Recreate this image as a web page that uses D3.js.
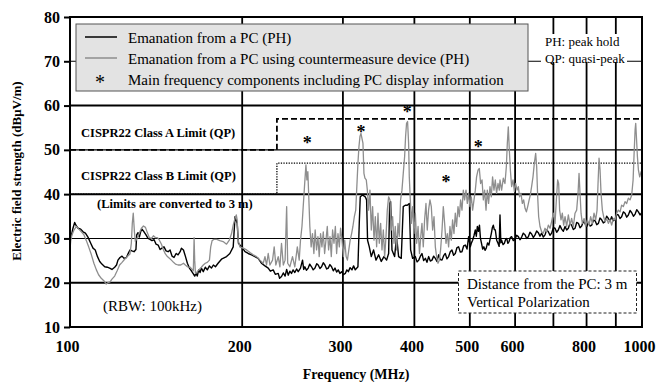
<!DOCTYPE html>
<html><head><meta charset="utf-8">
<script src="https://cdn.jsdelivr.net/npm/d3@7"></script>
<style>
body{margin:0;background:#fff}
svg{display:block}
text{font-family:"Liberation Serif","Times New Roman",serif;fill:#000}
</style>
</head><body>
<svg id="chart" width="658" height="383" font-family="Liberation Serif, serif"></svg>
<script>
// ---------------- data (frequency MHz, level dBµV/m) ----------------
const pcPH = [
[100.0,29.8],[100.3,30.0],[101.2,32.3],[101.9,33.6],[102.6,32.8],[103.3,32.3],[104.4,32.1],[105.4,31.5],[106.4,31.2],[107.5,30.3],[108.7,28.9],[109.7,27.8],[110.7,27.4],[111.6,26.0],[112.7,24.8],[113.7,24.2],[115.0,23.6],[116.2,23.5],[117.3,23.3],[118.4,23.0],[119.7,23.5],[120.6,24.0],[121.3,25.1],[122.3,25.7],[123.3,26.0],[124.3,25.5],[125.5,25.7],[126.3,26.5],[127.3,27.4],[128.3,27.2],[129.4,27.0],[130.4,27.5],[130.8,30.8],[131.5,31.3],[132.2,30.3],[132.9,31.5],[133.6,32.1],[134.7,31.5],[135.8,30.8],[136.9,30.0],[138.0,29.8],[139.1,29.5],[140.3,29.7],[141.4,28.7],[142.6,28.5],[143.7,27.5],[144.8,27.8],[146.0,28.1],[147.2,27.2],[148.4,27.0],[149.6,27.4],[150.8,26.0],[152.0,25.7],[153.3,26.6],[154.5,26.3],[155.8,27.0],[156.6,27.8],[157.9,27.4],[159.1,26.0],[160.4,24.4],[161.7,23.3],[163.0,22.7],[164.3,22.0],[165.2,21.5],[166.1,22.1],[166.9,21.5],[167.9,22.9],[168.8,22.3],[169.7,23.3],[171.0,22.5],[172.4,23.5],[173.8,22.9],[175.3,23.8],[176.7,23.3],[178.1,24.0],[179.6,23.6],[181.5,24.4],[184.0,25.3],[187.8,25.9],[190.3,26.6],[192.9,28.1],[194.3,34.9],[196.0,33.4],[197.0,28.9],[199.5,28.1],[202.3,27.0],[204.9,26.6],[207.7,26.3],[210.5,25.9],[213.3,25.5],[216.1,24.4],[219.2,23.8],[222.1,23.3],[224.0,22.6],[226.6,22.9],[228.5,21.9],[231.2,22.1],[232.5,21.0],[234.3,21.4],[236.0,22.2],[237.7,21.5],[239.2,23.0],[240.7,21.7],[242.3,22.6],[243.9,22.1],[245.5,22.9],[247.2,22.3],[249.0,23.1],[250.6,22.5],[252.9,23.3],[255.0,25.1],[256.2,23.0],[257.4,23.6],[259.0,22.8],[260.9,23.3],[262.5,24.2],[264.4,23.6],[266.2,22.9],[268.1,23.3],[270.0,24.3],[271.6,24.0],[273.5,23.2],[275.3,23.6],[277.2,24.5],[279.0,24.0],[281.0,23.1],[282.8,23.3],[284.7,24.1],[286.6,23.6],[288.6,22.7],[290.6,23.3],[292.5,22.4],[294.4,22.9],[296.4,22.1],[298.4,22.5],[300.6,21.8],[302.9,22.1],[304.8,22.9],[306.6,22.5],[308.8,23.4],[311.1,22.9],[313.2,23.8],[315.3,22.9],[318.7,23.6],[320.4,33.4],[321.7,39.4],[324.7,39.8],[328.2,39.4],[330.0,38.7],[331.3,29.6],[333.6,28.1],[336.3,25.9],[339.4,27.4],[342.7,25.1],[346.4,26.3],[350.1,24.8],[353.9,25.9],[357.7,25.1],[360.6,26.6],[362.1,37.9],[363.5,38.3],[365.5,27.4],[369.4,25.9],[372.4,30.4],[375.4,25.9],[379.4,25.5],[382.5,37.2],[385.6,37.5],[388.7,37.5],[391.9,37.9],[394.0,27.4],[397.2,25.5],[401.6,25.9],[404.3,24.7],[407.1,25.1],[409.8,26.0],[412.4,26.6],[415.2,25.0],[418.1,25.5],[420.8,24.6],[423.6,25.9],[426.5,24.9],[429.4,25.1],[432.3,26.0],[435.2,25.5],[438.1,24.8],[441.0,26.3],[444.0,25.2],[447.0,25.1],[450.0,26.1],[453.0,26.6],[456.0,25.4],[459.1,25.9],[462.2,27.0],[465.3,27.4],[468.4,26.2],[471.6,26.6],[474.8,27.9],[478.0,28.1],[481.2,26.9],[484.4,27.0],[487.7,28.3],[491.1,28.5],[494.4,27.6],[497.7,30.4],[501.0,28.1],[503.3,29.0],[505.7,29.6],[508.4,30.6],[511.2,31.9],[513.2,30.5],[515.4,32.7],[517.6,31.6],[519.8,33.0],[521.9,30.0],[524.1,28.9],[526.6,27.6],[529.1,28.1],[531.6,27.3],[534.2,27.8],[537.0,29.0],[539.9,28.5],[542.5,29.8],[545.2,31.1],[547.4,32.4],[549.6,33.0],[551.8,32.0],[554.1,31.9],[557.1,29.6],[560.1,28.9],[562.7,28.2],[564.6,35.3],[566.5,29.0],[568.3,29.6],[571.5,28.6],[574.6,28.9],[577.3,29.7],[580.0,30.0],[582.8,28.9],[585.6,29.3],[588.6,30.2],[591.7,30.4],[595.7,29.5],[599.8,29.8],[603.8,30.7],[607.8,30.4],[611.9,29.7],[616.0,30.3],[620.2,31.2],[624.5,30.8],[628.6,30.0],[632.8,30.4],[637.0,31.4],[641.2,31.0],[645.6,30.2],[650.1,30.8],[654.4,31.7],[658.8,31.3],[663.2,30.5],[667.6,31.2],[672.2,30.3],[676.8,30.8],[681.3,31.9],[685.9,31.5],[690.4,30.7],[695.0,31.2],[699.8,32.4],[704.6,32.3],[709.3,31.4],[714.0,31.9],[718.8,32.9],[723.6,32.1],[728.6,31.6],[733.6,32.7],[738.5,31.9],[743.4,32.3],[748.3,33.4],[753.3,33.0],[758.5,32.0],[763.7,32.3],[768.8,33.6],[774.0,33.4],[779.2,32.4],[784.4,32.8],[789.9,33.9],[795.4,33.3],[800.7,32.7],[806.0,33.6],[811.4,32.8],[816.9,33.0],[822.5,34.1],[828.1,34.0],[833.5,33.1],[839.0,33.4],[844.5,34.6],[850.1,34.2],[855.8,33.5],[861.6,33.8],[867.4,35.0],[873.3,34.5],[879.1,33.9],[884.9,34.9],[890.8,34.0],[896.8,34.3],[903.0,35.4],[909.2,35.3],[915.2,34.5],[921.3,34.9],[927.6,36.0],[934.0,35.7],[940.3,34.8],[946.6,35.3],[953.0,36.3],[959.5,35.8],[966.1,35.0],[972.7,35.5],[979.1,36.5],[985.6,36.0],[992.3,35.3],[1000,35.9]
];
const pcCountermeasurePH = [
[100.0,27.5],[100.3,29.5],[100.8,30.8],[101.6,31.9],[102.6,32.7],[103.6,32.1],[104.7,31.5],[105.8,30.8],[106.8,29.5],[107.8,28.1],[109.0,26.3],[110.1,24.4],[111.2,22.9],[112.2,21.8],[113.4,21.0],[114.7,20.4],[115.7,19.7],[116.5,20.0],[117.5,20.2],[118.4,20.8],[119.7,21.5],[120.9,22.7],[122.1,24.0],[123.3,24.6],[124.6,25.3],[125.9,25.9],[127.3,26.5],[128.0,28.9],[128.5,33.4],[129.0,35.7],[129.6,31.5],[130.1,29.3],[131.2,30.2],[132.2,31.2],[133.3,32.3],[134.4,32.8],[135.5,32.5],[136.6,31.2],[137.6,30.2],[138.8,30.0],[139.9,30.6],[141.0,30.2],[142.2,30.2],[143.3,29.6],[144.5,28.7],[145.7,27.4],[146.8,26.5],[148.0,25.9],[149.2,25.5],[150.4,25.1],[151.7,24.6],[152.9,24.2],[154.5,24.0],[156.2,24.0],[157.9,24.4],[159.1,24.0],[160.4,23.6],[162.2,23.5],[163.5,23.0],[164.3,22.7],[164.8,30.2],[165.2,25.1],[165.7,22.1],[166.9,22.5],[168.3,23.0],[169.7,23.5],[171.0,24.0],[172.4,24.4],[173.8,24.6],[175.3,25.1],[176.2,28.1],[177.2,29.5],[178.6,29.8],[180.6,29.8],
[182.8,29.5],[185.2,29.3],[187.8,28.7],[189.9,29.6],[191.6,31.1],[192.9,33.0],[194.3,34.5],[195.3,35.3],[196.0,34.2],[196.8,29.6],[198.1,28.1],[200.8,27.8],[203.6,27.4],[206.4,26.8],[209.1,26.3],[211.9,25.9],[214.8,25.1],[217.7,24.4],[219.2,25.9],[220.6,24.0],[222.1,26.6],[223.6,24.0],[226.0,25.1],[227.5,28.1],[229.0,24.0],[231.2,25.9],[232.8,23.6],[234.3,28.9],[236.0,24.0],[237.7,25.1],[239.2,37.2],[240.2,24.4],[242.3,23.6],[244.9,25.9],[247.2,23.6],[249.7,28.1],[251.6,25.1],[252.9,29.6],[254.4,32.7],[255.7,37.2],[257.0,41.7],[258.5,46.6],[259.5,43.2],[260.5,45.1],[261.6,38.7],[262.6,32.7],[264.0,28.1],[265.4,31.1],[266.9,26.6],[268.3,31.9],[269.8,27.4],[271.3,30.4],[272.7,25.9],[274.2,31.1],[275.7,28.1],[277.2,31.5],[278.7,26.6],[280.2,29.6],[281.7,32.7],[283.2,27.4],[284.8,30.4],[286.3,25.9],[287.8,31.9],[289.4,28.9],[291.0,32.7],[292.5,26.6],[294.1,31.1],[295.7,28.1],[297.2,32.3],[298.9,29.6],[300.6,25.9],[302.2,29.6],[303.9,25.9],[305.5,25.1],[307.2,27.4],[308.9,29.6],[310.7,31.1],[312.3,32.7],[314.1,34.9],[315.9,36.4],
[318.7,47.0],[320.0,50.7],[321.3,53.0],[322.6,53.7],[323.9,52.6],[325.2,51.5],[326.5,44.7],[327.8,43.6],[329.6,43.2],[331.0,40.9],[332.7,36.4],[334.5,40.9],[336.3,31.9],[338.1,37.2],[340.0,29.6],[341.8,34.9],[343.6,28.1],[345.5,35.7],[347.3,28.9],[349.2,33.4],[351.1,27.4],[353.0,31.9],[354.9,25.9],[356.8,30.4],[358.7,36.4],[360.6,39.4],[362.6,38.7],[364.5,31.9],[366.5,34.9],[368.5,28.9],[370.4,32.7],[372.4,27.4],[374.5,33.4],[376.4,30.4],[378.4,38.7],[380.5,40.9],[382.5,44.7],[384.6,48.5],[386.1,53.0],[387.6,56.0],[389.2,56.4],[390.8,51.5],[391.9,43.9],[393.5,38.7],[395.1,33.4],[397.2,37.2],[399.3,31.1],[401.6,35.7],[403.7,28.9],[406.0,32.7],[408.3,26.6],[410.4,30.4],[412.4,33.4],[414.6,28.1],[416.8,34.2],[419.1,37.9],[421.3,31.9],[423.5,36.4],[425.9,38.7],[428.2,37.2],[430.5,31.9],[432.9,34.9],[435.2,28.1],[437.4,25.9],[439.9,24.4],[442.2,25.1],[444.5,27.4],[447.1,31.9],[449.4,37.2],[451.8,33.4],[454.3,28.9],[456.7,31.1],[459.1,28.1],[461.6,32.7],[464.1,29.6],[466.5,34.2],[469.1,31.1],[471.6,35.7],[474.0,32.7],[476.8,37.2],[479.3,34.9],[481.8,38.7],[484.5,36.4],[487.1,40.9],[489.6,38.7],[492.4,40.9],[495.0,37.9],[497.5,40.2],[500.3,37.2],[503.0,39.4],[505.7,36.4],[508.5,38.7],[511.2,40.9],[513.8,43.9],[516.8,45.4],[519.5,45.8],[522.2,42.4],[525.2,43.2],[528.0,38.7],[530.7,40.9],[533.7,36.4],[536.5,40.9],[539.3,37.9],[542.3,41.7],[545.2,39.4],[548.0,43.9],[551.1,40.9],[554.0,43.2],[556.9,40.2],[560.1,42.4],[563.0,40.9],
[564.6,43.2],[568.3,40.9],[572.2,43.6],[576.0,42.4],[579.2,46.2],[581.5,51.5],[583.8,55.2],[586.2,50.0],[588.6,45.5],[591.7,41.7],[595.0,43.2],[598.2,40.6],[601.4,42.4],[604.8,40.9],[607.8,41.7],[611.0,39.4],[614.4,40.2],[617.7,37.9],[621.0,38.7],[624.5,36.8],[627.9,36.0],[631.2,37.2],[634.9,38.7],[637.9,39.8],[641.2,41.7],[644.8,43.9],[648.3,47.0],[651.8,49.2],[654.4,46.2],[657.1,39.4],[659.7,34.9],[663.3,32.7],[667.6,31.5],[672.2,31.2],[676.8,32.3],[681.2,31.5],[685.9,33.0],[690.6,32.3],[695.0,33.8],[699.8,35.7],[704.6,33.4],[708.4,38.7],[712.1,43.2],[715.0,42.4],[717.8,36.4],[721.8,34.2],[725.6,35.7],[729.5,33.0],[733.6,34.9],[738.4,32.7],[743.4,35.3],[748.5,33.0],[753.3,34.5],[758.5,32.7],[763.7,35.7],[768.7,36.4],[773.0,40.2],[776.1,44.7],[779.2,40.2],[782.4,35.7],[786.5,33.4],[792.0,34.5],[797.1,32.7],[802.6,34.2],[808.2,33.0],[813.2,34.9],[818.8,33.4],[824.4,35.7],[829.8,34.2],[834.5,36.4],[837.8,42.4],[841.2,48.1],[844.6,45.5],[848.0,40.2],[852.5,36.4],[857.0,34.9],[861.8,33.8],[867.4,34.5],[873.3,33.4],[879.3,34.2],[885.0,33.0],[891.1,34.5],[897.2,34.2],[903.0,35.7],[909.2,36.4],[915.5,36.0],[921.3,37.5],[927.7,37.2],[934.0,38.3],[940.1,37.9],[946.6,39.1],[953.1,38.7],[959.4,39.8],[964.8,43.2],[968.7,49.2],[972.6,54.5],[975.0,56.0],[977.7,53.0],[981.7,48.5],[985.6,45.5],[990.8,43.9],[996.4,45.1],[1000,44.3]
];
const classALimit = [[100,50],[230,50],[230,57],[1000,57]];
const classBLimit = [[100,40],[230,40],[230,47],[1000,47]];
const markerPoints = [[259.9,51.9],[322.6,54.5],[388.8,59.1],[454.4,43.2],[517.3,51.0]];
const freqTickLabels = [100,200,300,400,500,600,800,1000];
const freqGrid = [200,300,400,500,600,700,800,900];
const levelTicks = [10,20,30,40,50,60,70,80];
const legendLabels = [
  "Emanation from a PC (PH)",
  "Emanation from a PC using countermeasure device (PH)",
  "Main frequency components including PC display information"
];

// ---------------- drawing ----------------
const FONT = "Liberation Serif, Times New Roman, serif";
const svg = d3.select("#chart");
const L = 70, R = 642, T = 17, B = 327;
const x = d3.scaleLog().domain([100, 1000]).range([L, R]);
const y = d3.scaleLinear().domain([10, 80]).range([B, T]);
const BLACK = "#000", GRAY = "#8e8e8e";

svg.append("rect").attr("width", 658).attr("height", 383).attr("fill", "#fff");

// grid
const g = svg.append("g");
g.selectAll(".hg").data(levelTicks.filter(d => d > 10 && d < 80)).join("line")
  .attr("x1", L).attr("x2", R).attr("y1", d => y(d)).attr("y2", d => y(d))
  .attr("stroke", BLACK).attr("stroke-width", d => (d % 20 === 0 ? 2 : 1.1));
g.selectAll(".vg").data(freqGrid).join("line")
  .attr("y1", T).attr("y2", B).attr("x1", d => x(d)).attr("x2", d => x(d))
  .attr("stroke", BLACK).attr("stroke-width", 1.8);

// limit lines
const lim = d3.line().x(d => x(d[0])).y(d => y(d[1]));
svg.append("path").attr("d", lim(classALimit)).attr("fill", "none")
  .attr("stroke", BLACK).attr("stroke-width", 1.8).attr("stroke-dasharray", "6,3");
svg.append("path").attr("d", lim(classBLimit)).attr("fill", "none")
  .attr("stroke", BLACK).attr("stroke-width", 1.3).attr("stroke-dasharray", "1.3,1.3");

// traces
svg.append("clipPath").attr("id", "clip").append("rect")
  .attr("x", L).attr("y", T).attr("width", R - L).attr("height", B - T);
const tr = d3.line().x(d => x(d[0])).y(d => y(d[1]));
svg.append("path").attr("d", tr(pcPH)).attr("fill", "none").attr("clip-path", "url(#clip)")
  .attr("stroke", BLACK).attr("stroke-width", 1.4).attr("stroke-linejoin", "round");
svg.append("path").attr("d", tr(pcCountermeasurePH)).attr("fill", "none").attr("clip-path", "url(#clip)")
  .attr("stroke", GRAY).attr("stroke-width", 1.3).attr("stroke-linejoin", "round");

// frame
svg.append("rect").attr("x", L).attr("y", T).attr("width", R - L).attr("height", B - T)
  .attr("fill", "none").attr("stroke", BLACK).attr("stroke-width", 2);

// axes
const yAxis = svg.append("g").attr("transform", `translate(${L},0)`)
  .call(d3.axisLeft(y).tickValues(levelTicks).tickSize(6).tickPadding(4).tickFormat(d3.format("d")));
yAxis.attr("font-family", FONT);
yAxis.select(".domain").remove();
yAxis.selectAll(".tick line").attr("stroke", BLACK).attr("stroke-width", 2);
yAxis.selectAll("text").attr("font-size", 16).attr("font-weight", "bold").attr("fill", BLACK);

const xAxis = svg.append("g").attr("transform", `translate(0,${B})`)
  .call(d3.axisBottom(x).tickValues(freqTickLabels).tickSize(0).tickPadding(13.5).tickFormat(d3.format("d")));
xAxis.attr("font-family", FONT);
xAxis.select(".domain").remove();
xAxis.selectAll("text").attr("font-size", 16).attr("font-weight", "bold").attr("dx", -3).attr("fill", BLACK);

// axis titles
svg.append("text").attr("x", (L + R) / 2).attr("y", 379).attr("text-anchor", "middle")
  .attr("font-family", FONT).attr("font-size", 14).attr("font-weight", "bold").text("Frequency (MHz)");
svg.append("text").attr("transform", `translate(21,171) rotate(-90)`)
  .attr("text-anchor", "middle").attr("font-family", FONT).attr("font-size", 13).attr("font-weight", "bold")
  .text("Electric field strength (dBμV/m)");

// legend
const lg = svg.append("g").attr("font-family", FONT);
lg.append("rect").attr("x", 76).attr("y", 24).attr("width", 452).attr("height", 67)
  .attr("fill", "#e3e3e3").attr("stroke", "#555").attr("stroke-width", 1);
const rowsY = [37, 58, 79];
lg.append("line").attr("x1", 85).attr("x2", 117).attr("y1", rowsY[0]).attr("y2", rowsY[0])
  .attr("stroke", BLACK).attr("stroke-width", 1.5);
lg.append("line").attr("x1", 85).attr("x2", 117).attr("y1", rowsY[1]).attr("y2", rowsY[1])
  .attr("stroke", GRAY).attr("stroke-width", 1.5);
lg.append("text").attr("x", 100).attr("y", rowsY[2] + 9.5).attr("text-anchor", "middle")
  .attr("font-size", 20).text("*");
lg.selectAll(".lt").data(legendLabels).join("text")
  .attr("x", 128).attr("y", (d, i) => rowsY[i] + 5.5).attr("font-size", 15).text(d => d);

// PH / QP note
const note = svg.append("g").attr("font-family", FONT);
note.append("rect").attr("x", 541).attr("y", 34).attr("width", 86).attr("height", 28).attr("fill", "#fff");
note.append("text").attr("x", 545).attr("y", 46).attr("font-size", 13).text("PH: peak hold");
note.append("text").attr("x", 545).attr("y", 63).attr("font-size", 13).text("QP: quasi-peak");

// limit annotations
const ann = svg.append("g").attr("font-family", FONT);
ann.append("text").attr("x", 81).attr("y", 137).attr("font-size", 12.5).attr("font-weight", "bold")
  .text("CISPR22 Class A Limit (QP)");
ann.append("text").attr("x", 81).attr("y", 180).attr("font-size", 12.5).attr("font-weight", "bold")
  .text("CISPR22 Class B Limit (QP)");
ann.append("text").attr("x", 97).attr("y", 208).attr("font-size", 12.5).attr("font-weight", "bold")
  .text("(Limits are converted to 3 m)");
ann.append("text").attr("x", 103).attr("y", 311).attr("font-size", 15).attr("fill", "#222")
  .text("(RBW: 100kHz)");

// asterisks
svg.append("g").attr("font-family", FONT).selectAll(".star").data(markerPoints).join("text")
  .attr("x", d => x(d[0])).attr("y", d => y(d[1]) + 8).attr("text-anchor", "middle")
  .attr("font-size", 18).attr("font-weight", "bold").text("*");

// distance box
const box = svg.append("g").attr("font-family", FONT);
box.append("rect").attr("x", 458.5).attr("y", 271).attr("width", 178).attr("height", 42)
  .attr("fill", "#fff").attr("stroke", "#222").attr("stroke-width", 1).attr("stroke-dasharray", "3,2");
box.append("text").attr("x", 467).attr("y", 289).attr("font-size", 15).text("Distance from the PC: 3 m");
box.append("text").attr("x", 467).attr("y", 307).attr("font-size", 15).text("Vertical Polarization");
</script>
</body></html>
